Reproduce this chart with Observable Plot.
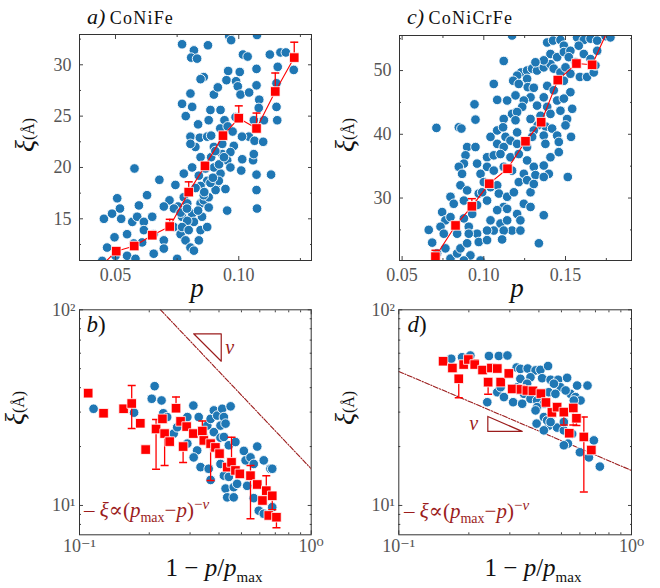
<!DOCTYPE html>
<html><head><meta charset="utf-8">
<script src="https://cdn.jsdelivr.net/npm/d3@7"></script>
<script src="https://cdn.jsdelivr.net/npm/@observablehq/plot@0.6"></script>
<style>
body{margin:0;background:#fff;}
#wrap{position:relative;width:660px;height:588px;font-family:'Liberation Serif','DejaVu Serif',serif;color:#111;}
.panel{position:absolute;}
.lbl{position:absolute;white-space:nowrap;line-height:1;}
</style></head><body><div id="wrap"></div>
<script>
// ---------- Panel a) CoNiFe : xi vs p ----------
const aBlue = [
[0.077,32.0],[0.0875,31.9],[0.0961,32.8],[0.0969,32.4],[0.1074,32.9],[0.0818,31.4],[0.0807,30.7],[0.0831,30.6],[0.1017,31.0],[0.1036,30.8],[0.1126,31.0],[0.1169,31.2],[0.1191,31.2],
[0.1223,29.5],[0.0858,28.8],[0.0845,28.6],[0.1004,29.3],[0.0957,29.4],[0.095,28.5],[0.1072,29.6],[0.1158,29.8],[0.0899,27.1],[0.0915,27.8],[0.0989,28.4],[0.0996,27.9],[0.1072,28.0],[0.1153,28.2],[0.0804,27.2],
[0.1007,27.1],[0.1042,27.3],[0.1083,26.6],[0.077,26.2],[0.0811,25.9],[0.0785,25.0],[0.0885,25.6],[0.0926,25.6],[0.0878,24.6],[0.0942,24.6],[0.0987,24.9],[0.1061,24.6],[0.1102,24.6],[0.1153,25.9],[0.1156,24.6],[0.1081,25.8],
[0.0804,23.0],[0.0842,22.9],[0.0872,23.0],[0.0888,23.1],[0.0824,22.0],[0.0804,22.3],[0.0899,22.0],[0.0933,22.3],[0.098,22.1],[0.1041,23.0],[0.1064,22.6],[0.1099,22.5],[0.0933,21.3],[0.0966,21.5],[0.1013,23.0],
[0.0777,19.4],[0.0811,20.0],[0.0845,21.0],[0.0865,19.9],[0.0872,18.7],[0.0899,20.0],[0.0926,19.4],[0.0953,20.7],[0.0966,20.0],[0.101,19.7],[0.1014,20.8],[0.1058,20.7],[0.1061,21.3],[0.1072,19.3],[0.1131,19.3],[0.0577,19.9],[0.0678,18.8],[0.0845,18.2],[0.0906,18.2],[0.0838,19.2],[0.0888,21.0],
[0.0743,18.3],[0.0719,16.8],[0.0754,16.2],[0.0737,16.0],[0.0777,17.1],[0.0791,16.5],[0.0811,15.5],[0.0845,16.5],[0.0858,16.8],[0.0878,17.1],[0.0906,17.8],[0.0919,18.7],[0.0851,15.2],[0.0818,14.7],[0.077,15.2],[0.0791,14.8],[0.0696,16.2],[0.0628,17.3],[0.0595,16.3],[0.0507,17.0],[0.0518,16.0],[0.0453,15.0],[0.0486,15.5],[0.0523,15.0],[0.0568,14.7],[0.0588,15.2],[0.0615,14.7],[0.0649,15.2],[0.0878,16.1],[0.0953,15.8],[0.0946,17.9],[0.1072,17.8],[0.1074,16.0],[0.0764,15.6],[0.0858,17.3],
[0.0737,14.2],[0.0764,13.5],[0.0784,12.9],[0.0804,12.2],[0.0818,11.9],[0.0845,13.9],[0.0872,14.2],[0.0838,12.9],[0.0696,12.9],[0.0696,12.1],[0.0655,11.6],[0.0608,12.7],[0.0547,13.5],[0.0574,12.6],[0.0547,11.4],[0.0581,11.1],[0.0496,13.2],[0.05,11.4],[0.0466,12.2],[0.0446,10.9],[0.075,11.1],[0.0655,13.5],[0.0615,13.9],[0.077,14.2],[0.0797,13.9],
[0.0825,18.0],[0.086,17.6],[0.0885,18.5],[0.0895,19.0],[0.079,16.0],[0.0835,15.8],[0.092,20.3],[0.094,21.0],[0.0905,21.6],[0.0925,23.8],[0.0955,24.0],[0.0975,23.5],[0.0835,24.2]
];
const aRedP  = [0.0503,0.0576,0.0649,0.0720,0.0797,0.0863,0.0936,0.1000,0.1072,0.1148,0.1225];
const aRedXi = [11.85,12.35,13.4,14.25,17.6,20.15,23.1,24.8,23.8,27.4,30.7];
const aRedErr= [0.3,0.3,0.4,0.7,1.0,0.4,0.4,1.2,1.5,1.8,1.5];
const aTail  = [0.0425,10.0];
const aXTicks = [0.05,0.10], aXTickLabels = ["0.05","0.10"], aXMinor = [0.075,0.125];
const aYTicks = [15,20,25,30], aYTickLabels = ["15","20","25","30"], aYMinor = [12.5,17.5,22.5,27.5,32.5];

// ---------- Panel c) CoNiCrFe : xi vs p ----------
const cBlue = [
[0.1173,55.5],[0.1745,55.4],[0.1388,54.4],[0.1424,54.7],[0.1469,54.8],[0.149,53.9],[0.1571,55.2],[0.1612,54.8],[0.1653,55.0],[0.1694,54.7],[0.1775,55.2],[0.1122,51.5],[0.1228,49.7],[0.1204,49.2],[0.118,48.4],[0.1265,50.0],[0.1296,50.3],[0.1326,50.0],[0.1367,50.5],[0.1408,51.0],[0.1428,50.3],[0.1469,49.7],[0.15,50.5],[0.153,49.5],[0.1588,49.0],[0.1632,49.0],[0.1673,49.7],[0.1408,52.6],[0.1367,51.6],[0.1449,52.1],[0.149,52.9],[0.153,53.1],[0.1581,53.9],[0.1612,52.6],[0.1694,53.1],[0.1561,51.3],[0.152,52.1],[0.1653,51.8],[0.1683,50.8],[0.1316,51.3],[0.1265,48.7],
[0.1061,47.9],[0.1214,47.9],[0.1269,47.4],[0.1306,47.3],[0.1388,47.6],[0.1428,46.9],[0.149,48.4],[0.153,46.6],[0.1367,45.8],[0.1286,45.8],[0.1082,45.4],[0.1143,45.3],[0.1194,46.1],[0.1245,45.3],[0.1326,44.5],[0.1388,44.3],[0.1449,45.3],[0.149,45.6],[0.1541,44.0],[0.151,42.4],[0.1408,43.2],[0.1469,43.7],[0.1235,44.3],[0.1173,43.2],[0.1122,42.4],[0.1286,42.4],[0.1347,42.9],[0.0943,44.7],[0.0949,42.3],[0.1204,43.5],[0.1534,39.6],[0.15,41.4],[0.1379,41.2],[0.133,41.4],[0.1418,40.9],[0.1449,39.8],[0.1367,39.8],[0.1306,40.6],
[0.0847,41.1],[0.0863,40.9],[0.071,41.0],[0.1041,39.6],[0.1082,40.6],[0.1118,41.1],[0.1133,39.6],[0.1194,42.2],[0.1204,40.3],[0.1163,39.0],[0.1082,38.5],[0.1122,38.0],[0.1204,38.5],[0.1265,38.0],[0.1296,39.6],[0.1377,38.5],[0.1408,36.4],[0.1459,38.8],[0.1459,37.2],[0.0898,38.0],[0.0888,36.7],[0.0949,38.0],[0.0878,35.4],[0.0959,35.4],[0.102,36.4],[0.1061,36.7],[0.1102,36.9],[0.1163,36.4],[0.1214,36.9],[0.1265,35.9],[0.1306,34.9],[0.1367,35.1],[0.1398,33.8],[0.1245,33.8],[0.1173,34.3],[0.1122,34.9],[0.102,34.9],[0.1061,34.3],[0.098,33.8],[0.1,32.5],[0.1514,33.3],[0.1214,32.5],[0.1265,32.8],[0.1316,33.6],[0.1367,33.3],
[0.0847,34.9],[0.0867,33.8],[0.0857,32.0],[0.0796,30.2],[0.0816,29.1],[0.0878,29.6],[0.0929,27.5],[0.0959,28.9],[0.0969,30.7],[0.0898,31.2],[0.099,30.9],[0.102,29.6],[0.1041,31.7],[0.1082,32.0],[0.1092,30.7],[0.1143,30.2],[0.1184,30.9],[0.1122,28.6],[0.1082,28.1],[0.1041,26.5],[0.1061,24.9],[0.1102,26.0],[0.1143,28.3],[0.1245,29.1],[0.1286,30.9],[0.1306,32.2],[0.1143,26.5],[0.1204,27.5],[0.1173,24.9],[0.1224,26.5],[0.1367,27.3],[0.1286,28.6],[0.1337,22.9],[0.0745,27.8],[0.0765,26.5],[0.0735,25.5],[0.0796,27.0],[0.0878,26.8],[0.0908,25.5],[0.0959,24.4],[0.102,24.9],[0.1122,24.9],[0.1112,23.5],[0.1224,24.9],
[0.0663,25.0],[0.0684,23.0],[0.0755,24.4],[0.0765,22.1],[0.0796,20.5],[0.0837,21.3],[0.0857,22.1],[0.0898,22.9],[0.0908,24.4],[0.0918,21.0],[0.0969,23.1],[0.098,20.2],[0.0878,20.2],[0.0837,24.4],[0.0714,21.3],[0.102,23.4]
];
const cRedP  = [0.0704,0.0827,0.0927,0.1033,0.1145,0.1255,0.1351,0.1453,0.1567,0.1663];
const cRedXi = [20.8,25.7,28.7,32.25,34.6,38.9,41.9,48.5,51.1,50.9];
const cRedErr= [1.0,0.6,1.2,0.5,0.5,0.5,0.6,0.6,0.6,0.5];
const cTail  = [0.178,57.5];
const cXTicks = [0.05,0.10,0.15], cXTickLabels = ["0.05","0.10","0.15"], cXMinor = [0.075,0.125,0.175];
const cYTicks = [30,40,50], cYTickLabels = ["30","40","50"], cYMinor = [25,35,45,55];

// ---------- Panel b) CoNiFe : xi vs 1 - p/pmax (log-log) ----------
const bBlue = [
[0.115,31.2],[0.172,29.8],[0.211,40.7],[0.205,35.1],[0.226,34.4],[0.230,29.6],[0.239,28.3],[0.255,23.3],[0.264,25.1],[0.292,28.3],[0.292,20.7],[0.310,32.4],[0.327,28.3],[0.322,19.1],[0.311,17.6],[0.333,15.7],[0.344,22.4],[0.356,25.6],[0.368,27.7],[0.380,30.6],[0.380,23.7],[0.380,19.9],[0.393,28.8],[0.406,25.6],[0.406,22.2],[0.406,16.3],[0.413,31.2],[0.420,28.3],[0.420,22.4],[0.427,26.2],[0.441,20.3],[0.449,32.1],[0.471,21.1],[0.512,19.0],[0.521,17.0],[0.547,17.6],[0.565,16.3],[0.585,20.0],[0.624,17.0],[0.667,15.4],[0.679,15.4],[0.361,15.4],[0.368,13.5],[0.420,14.2],[0.441,14.0],[0.427,12.2],[0.463,12.4],[0.434,11.0],[0.463,11.0],[0.479,12.9],[0.529,12.6],[0.565,10.9],[0.594,9.4],[0.624,9.07],[0.656,11.2],[0.679,9.8]
];
const bRed = [
[0.109,37.5],[0.127,29.6],[0.155,31.2],[0.168,33.2],[0.183,26.3],[0.193,19.3],[0.214,24.6],[0.228,27.7],[0.233,23.3],[0.245,21.2],[0.261,31.4],[0.273,26.9],[0.280,20.0],[0.290,25.3],[0.310,23.3],[0.339,24.0],[0.344,21.5],[0.368,20.7],[0.386,19.8],[0.402,18.4],[0.434,15.7],[0.453,16.6],[0.471,15.1],[0.492,14.5],[0.547,14.2],[0.585,12.8],[0.616,10.6],[0.640,11.9],[0.679,11.2],[0.656,8.89],[0.708,8.71]
];
const bRedLo = [null,null,null,24.7,null,null,15.3,null,16.0,null,null,null,16.6,null,null,null,null,13.4,null,null,null,null,null,null,8.55,null,null,null,9.5,null,7.7];
const bRedHi = [null,null,null,41.0,null,null,27.5,null,null,null,35.8,null,null,null,null,27.0,null,null,null,null,null,22.3,null,null,16.0,null,null,14.2,null,null,null];
const bFit = [[0.2237,100],[1.0,15.4]];
const bTriangle = [[0.311,75.4],[0.409,75.4],[0.409,54.6],[0.311,75.4]];
const bNu = [[0.445,64]];

// ---------- Panel d) CoNiCrFe : xi vs 1 - p/pmax (log-log) ----------
const dBlue = [
[0.168,56.2],[0.187,57.2],[0.203,58.4],[0.244,58.1],[0.269,58.1],[0.293,58.4],[0.321,50.7],[0.333,49.9],[0.358,50.1],[0.387,49.0],[0.406,49.3],[0.438,51.6],[0.368,45.2],[0.413,44.7],[0.449,43.9],[0.484,43.9],[0.529,44.9],[0.584,41.0],[0.647,41.0],[0.495,40.2],[0.547,37.2],[0.575,35.8],[0.604,34.4],[0.565,34.4],[0.521,38.7],[0.323,40.2],[0.333,44.4],[0.356,41.9],[0.345,37.2],[0.368,35.1],[0.393,34.4],[0.420,33.1],[0.393,31.8],[0.441,37.9],[0.471,37.2],[0.464,41.9],[0.265,37.9],[0.274,40.2],[0.283,35.8],[0.310,33.7],[0.339,33.1],[0.240,33.7],[0.387,30.6],[0.420,28.3],[0.441,25.6],[0.434,27.2],[0.420,24.2],[0.479,25.0],[0.512,24.2],[0.533,20.7],[0.512,20.3],[0.556,23.2],[0.512,26.7],[0.600,18.7],[0.656,17.6],[0.731,15.8],[0.689,21.5],[0.391,26.2],[0.449,26.7]
];
const dRed = [
[0.155,54.6],[0.170,50.4],[0.181,44.4],[0.190,52.5],[0.199,55.7],[0.212,52.5],[0.229,49.2],[0.242,42.7],[0.250,50.4],[0.265,50.1],[0.274,42.7],[0.297,47.3],[0.307,39.4],[0.335,39.2],[0.355,38.7],[0.377,38.5],[0.408,37.3],[0.429,33.6],[0.455,29.9],[0.479,31.8],[0.512,30.0],[0.562,31.5],[0.580,27.9],[0.540,23.4],[0.624,22.4],[0.672,19.2]
];
const dRedLo = [null,null,35.5,null,null,null,null,37.0,null,null,null,null,null,null,null,null,null,null,null,null,25.8,25.8,25.6,null,11.7,null];
const dRedHi = [null,null,null,null,58.5,55.5,null,null,null,null,null,null,null,null,null,null,null,null,null,null,null,null,null,null,28.3,null];
const dFit = [[0.1,48.4],[1.0,15.1]];
const dTriangle = [[0.2413,28.5],[0.2413,23.9],[0.339,23.9],[0.2413,28.5]];
const dNu = [[0.210,26.2]];

const logXTicks = [0.1,1], logXTickLabels = ["10⁻¹","10⁰"], logXMinor = [0.2,0.3,0.4,0.5,0.6,0.7,0.8,0.9];
const logYTicks = [10,100], logYTickLabels = ["10¹","10²"], logYMinor = [8,9,20,30,40,50,60,70,80,90];

// ---------- helpers ----------
const BLUE = "#1f77b4", RED = "#ff0000", FIT = "#9b1c1c";
const capSym = {draw(ctx, size){ const w = Math.sqrt(size/Math.PI); ctx.moveTo(-w,0); ctx.lineTo(w,0); }};
const fmt = (ticks, labels) => { const m = new Map(ticks.map((t,i)=>[t,labels[i]])); return d => m.get(d) ?? ""; };
const none = () => "";

function axes(xMaj, xLab, xMin, yMaj, yLab, yMin, pad) {
  const tk = {stroke: "#444", fill: "#555", label: null};
  return [
    Plot.axisX(xMaj, {...tk, anchor: "bottom", tickSize: -4, tickPadding: pad, tickFormat: fmt(xMaj, xLab)}),
    Plot.axisX(xMaj, {...tk, anchor: "top", tickSize: -4, tickFormat: none}),
    Plot.axisX(xMin, {...tk, anchor: "bottom", tickSize: -2, tickFormat: none}),
    Plot.axisX(xMin, {...tk, anchor: "top", tickSize: -2, tickFormat: none}),
    Plot.axisY(yMaj, {...tk, anchor: "left", tickSize: -4, tickPadding: pad, tickFormat: fmt(yMaj, yLab)}),
    Plot.axisY(yMaj, {...tk, anchor: "right", tickSize: -4, tickFormat: none}),
    Plot.axisY(yMin, {...tk, anchor: "left", tickSize: -2, tickFormat: none}),
    Plot.axisY(yMin, {...tk, anchor: "right", tickSize: -2, tickFormat: none})
  ];
}
function errMarks(rows) {
  const bars = rows.filter(r => r.lo != null || r.hi != null);
  const caps = [];
  bars.forEach(r => { if (r.lo != null) caps.push({x: r.x, y: r.lo}); if (r.hi != null) caps.push({x: r.x, y: r.hi}); });
  return [
    Plot.ruleX(bars, {x: "x", y1: r => r.lo ?? r.y, y2: r => r.hi ?? r.y, stroke: RED, strokeWidth: 1.3, clip: true}),
    Plot.dot(caps, {x: "x", y: "y", symbol: capSym, r: 4, stroke: RED, strokeWidth: 1.5, fill: "none", clip: true})
  ];
}
const blueDots = data => Plot.dot(data, {x: d => d[0], y: d => d[1], r: 4.8, fill: BLUE, stroke: "white", strokeWidth: 0.9, clip: true});
const redSquares = rows => Plot.dot(rows, {x: "x", y: "y", symbol: "square", r: 5.4, fill: RED, stroke: "white", strokeWidth: 0.8, clip: true});

const wrap = document.getElementById("wrap");
function place(svg, left, top) { svg.classList.add("panel"); svg.style.left = left + "px"; svg.style.top = top + "px"; wrap.appendChild(svg); }
function label(html, x, y, {rotate = false, anchor = "center", size = 17, color = "#111"} = {}) {
  const d = document.createElement("div");
  d.className = "lbl"; d.innerHTML = html;
  d.style.left = x + "px"; d.style.top = y + "px"; d.style.fontSize = size + "px"; d.style.color = color;
  d.style.transform = (anchor === "center" ? "translate(-50%,-50%)" : "translate(0,-50%)") + (rotate ? " rotate(-90deg)" : "");
  wrap.appendChild(d);
}
const style = {fontFamily: "'Liberation Serif','DejaVu Serif',serif", fontSize: "18px", background: "transparent", overflow: "visible"};

// ---------- panel a ----------
{
  const rows = aRedP.map((p,i) => ({x: p, y: aRedXi[i], hi: aRedXi[i] + aRedErr[i]}));
  const linePts = [{x: aTail[0], y: aTail[1]}, ...rows];
  place(Plot.plot({
    width: 330, height: 300, marginLeft: 79, marginRight: 19, marginTop: 34, marginBottom: 40,
    x: {domain: [0.0354, 0.1295]}, y: {domain: [10.94, 32.95]}, style,
    marks: [
      blueDots(aBlue),
      Plot.line(linePts, {x: "x", y: "y", stroke: RED, strokeWidth: 1.1, clip: true}),
      ...errMarks(rows),
      redSquares(rows),
      ...axes(aXTicks, aXTickLabels, aXMinor, aYTicks, aYTickLabels, aYMinor, 12),
      Plot.frame({stroke: "#333"})
    ]
  }), 0, 0);
}
// ---------- panel c ----------
{
  const rows = cRedP.map((p,i) => ({x: p, y: cRedXi[i], hi: cRedXi[i] + cRedErr[i]}));
  const linePts = [...rows, {x: cTail[0], y: cTail[1]}];
  place(Plot.plot({
    width: 330, height: 300, marginLeft: 69, marginRight: 29, marginTop: 35, marginBottom: 40,
    x: {domain: [0.0484, 0.1904]}, y: {domain: [20.2, 55.5]}, style,
    marks: [
      blueDots(cBlue),
      Plot.line(linePts, {x: "x", y: "y", stroke: RED, strokeWidth: 1.1, clip: true}),
      ...errMarks(rows),
      redSquares(rows),
      ...axes(cXTicks, cXTickLabels, cXMinor, cYTicks, cYTickLabels, cYMinor, 12),
      Plot.frame({stroke: "#333"})
    ]
  }), 330, 0);
}
// ---------- log panels ----------
function logPanel(blue, red, lo, hi, fit, tri, nu, ml, mr, left) {
  const rows = red.map((d,i) => ({x: d[0], y: d[1], lo: lo[i], hi: hi[i]}));
  place(Plot.plot({
    width: 330, height: 288, marginLeft: ml, marginRight: mr, marginTop: 9.3, marginBottom: 53.7,
    x: {type: "log", domain: [0.1, 1]}, y: {type: "log", domain: [7.08, 100]}, style,
    marks: [
      Plot.line(fit, {x: d => d[0], y: d => d[1], stroke: FIT, strokeWidth: 1.1, strokeDasharray: "5,1.6,1.2,1.6", clip: true}),
      Plot.line(tri, {x: d => d[0], y: d => d[1], stroke: FIT, strokeWidth: 1.2}),
      Plot.text(nu, {x: d => d[0], y: d => d[1], text: () => "ν", fill: FIT, fontSize: 20, fontStyle: "italic"}),
      blueDots(blue),
      ...errMarks(rows),
      redSquares(rows),
      ...axes(logXTicks, logXTickLabels, logXMinor, logYTicks, logYTickLabels, logYMinor, 8),
      Plot.frame({stroke: "#333"})
    ]
  }), left, 300);
}
logPanel(bBlue, bRed, bRedLo, bRedHi, bFit, bTriangle, bNu, 79, 19.3, 0);
logPanel(dBlue, dRed, dRedLo, dRedHi, dFit, dTriangle, dNu, 68.3, 29, 330);

// ---------- text labels ----------
label('<i style="font-size:22px">a)</i>&nbsp;<span style="letter-spacing:1.2px">CoNiFe</span>', 87, 17, {anchor: "left", size: 18});
label('<i style="font-size:22px">c)</i>&nbsp;<span style="letter-spacing:1.2px">CoNiCrFe</span>', 407, 17, {anchor: "left", size: 18});
const yl = '<i style="font-size:28px">ξ</i><span style="font-size:16px">(Å)</span>';
label(yl, 25, 135, {rotate: true});
label(yl, 345, 135, {rotate: true});
label(yl, 15, 408, {rotate: true});
label(yl, 345, 408, {rotate: true});
label('<i>p</i>', 197, 288, {size: 27});
label('<i>p</i>', 517, 288, {size: 27});
const xl = '1 − <i>p</i>/<i>p</i><sub style="font-size:15px">max</sub>';
label(xl, 214, 570, {size: 25});
label(xl, 533, 570, {size: 25});
label('<i>b</i>)', 96, 324, {size: 23});
label('<i>d</i>)', 417, 324, {size: 23});
const lg = '– <i>ξ</i>∝(<i>p</i><sub style="font-size:14px">max</sub>−<i>p</i>)<sup style="font-size:15px">−<i>ν</i></sup>';
label(lg, 84, 511, {anchor: "left", size: 21, color: FIT});
label(lg, 404, 512, {anchor: "left", size: 21, color: FIT});
</script></body></html>
